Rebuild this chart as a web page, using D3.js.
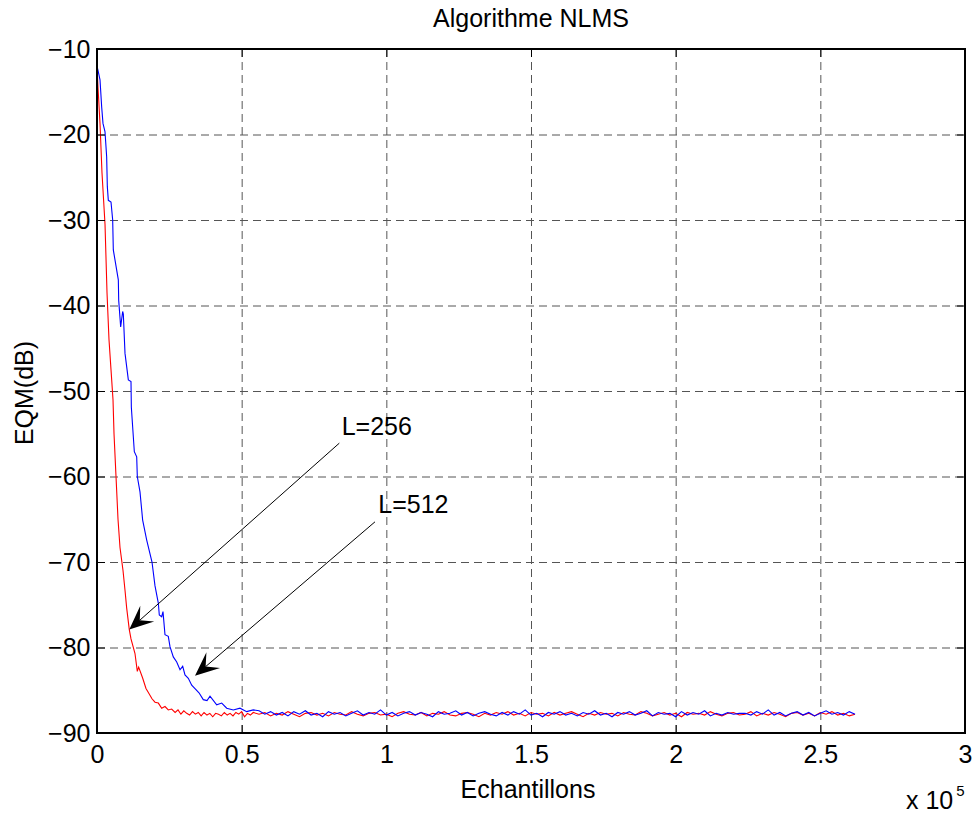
<!DOCTYPE html>
<html>
<head>
<meta charset="utf-8">
<script src="https://cdn.jsdelivr.net/npm/d3@7"></script>
<style>
body { margin: 0; background: #fff; }
text { font-family: "Liberation Sans", Arial, sans-serif; fill: #000; }
</style>
</head>
<body>
<div id="chart"></div>
<script>
// x values are in units of 10^5 samples
var xTicks = [0, 0.5, 1, 1.5, 2, 2.5, 3];
var yTicks = [-90, -80, -70, -60, -50, -40, -30, -20, -10];

// L=256 (red), convergence part
var redHeadX = [0, 0.0035, 0.0104, 0.0173, 0.0277, 0.0346, 0.0415, 0.0484, 0.0553, 0.0588,
  0.0657, 0.0726, 0.0795, 0.0899, 0.0968, 0.1026, 0.1116, 0.1175, 0.1313, 0.1393,
  0.1440, 0.1580, 0.1693, 0.1800, 0.1901, 0.2005, 0.2120, 0.2236, 0.2350, 0.2464,
  0.2580, 0.2700, 0.2800, 0.2900, 0.3000, 0.3100, 0.3200, 0.3300, 0.3400, 0.3500,
  0.3600, 0.3700, 0.3800, 0.3900, 0.4000, 0.4100, 0.4200, 0.4300, 0.4400, 0.4500,
  0.4600, 0.4700, 0.4800, 0.4900, 0.5000, 0.5100, 0.5200, 0.5300, 0.5400];
var redHeadY = [-12.0, -14.5, -18.7, -24.5, -30.5, -38.5, -44.0, -47.5, -51.0, -55.0,
  -60.0, -65.0, -68.3, -71.0, -73.3, -75.4, -77.9, -79.0, -80.7, -82.8,
  -82.3, -83.6, -84.8, -85.4, -86.0, -86.4, -86.5, -87.1, -86.9, -87.3,
  -87.2, -87.6, -87.3, -87.8, -87.4, -87.7, -87.9, -87.5, -87.8, -87.6,
  -88.0, -87.6, -87.9, -87.7, -88.1, -87.7, -87.8, -88.0, -87.6, -87.9,
  -87.7, -88.0, -87.6, -87.8, -87.5, -88.1, -87.7, -87.9, -87.6];

// L=512 (blue), convergence part
var blueHeadX = [0, 0.0035, 0.0104, 0.0162, 0.0207, 0.0277, 0.0334, 0.0357, 0.0391, 0.0484,
  0.0542, 0.0564, 0.0737, 0.0750, 0.0818, 0.0887, 0.0910, 0.0968, 0.1083, 0.1175,
  0.1187, 0.1290, 0.1372, 0.1393, 0.1486, 0.1578, 0.1716, 0.1901, 0.2005, 0.2119,
  0.2153, 0.2236, 0.2281, 0.2350, 0.2464, 0.2523, 0.2637, 0.2755, 0.2869, 0.2962,
  0.3041, 0.3156, 0.3273, 0.3387, 0.3525, 0.3674, 0.3802, 0.3906, 0.4137, 0.4310,
  0.4483, 0.4711, 0.4942, 0.5174, 0.5400];
var blueHeadY = [-12.0, -12.5, -13.6, -16.8, -18.7, -19.7, -22.6, -26.1, -27.7, -27.9,
  -30.0, -33.5, -37.0, -39.4, -42.5, -40.7, -41.0, -45.6, -48.7, -48.9,
  -51.9, -57.1, -57.7, -60.0, -61.8, -65.1, -67.4, -70.0, -72.8, -74.8,
  -76.2, -76.4, -75.8, -78.5, -78.7, -79.9, -81.1, -81.7, -82.6, -82.2,
  -83.2, -83.6, -84.4, -84.8, -85.3, -86.1, -86.2, -85.7, -86.7, -86.5,
  -87.1, -87.3, -87.1, -87.5, -87.3];

// steady state, sampled every 0.02 from 0.56
var tailStart = 0.56, tailStep = 0.02;
var redTail = [
  -87.8, -87.6, -88.0, -87.7, -87.9, -87.5, -87.8, -88.1, -87.7, -87.6,
  -87.9, -87.7, -88.0, -87.6, -87.8, -87.9, -87.5, -87.8, -88.0, -87.7,
  -87.6, -87.9, -87.8, -88.1, -87.7, -87.5, -87.8, -87.9, -87.6, -88.0,
  -87.7, -87.8, -87.5, -87.9, -88.0, -87.7, -87.6, -87.8, -88.1, -87.7,
  -87.9, -87.6, -87.8, -87.5, -87.9, -87.7, -88.0, -87.6, -87.8, -87.7,
  -88.0, -87.6, -87.9, -87.7, -87.5, -87.8, -88.1, -87.7, -87.9, -87.6,
  -87.8, -87.7, -88.0, -87.6, -87.8, -87.9, -87.5, -87.7, -88.0, -87.8,
  -87.6, -87.9, -87.7, -88.1, -87.6, -87.8, -87.7, -87.9, -87.5, -87.8,
  -88.0, -87.7, -87.6, -87.9, -87.8, -87.5, -88.0, -87.7, -87.9, -87.6,
  -87.8, -88.1, -87.7, -87.6, -87.9, -87.7, -88.0, -87.6, -87.8, -87.5,
  -87.9, -87.7, -88.0, -87.8];
var blueTail = [
  -87.4, -87.8, -87.5, -87.9, -87.6, -88.0, -87.5, -87.8, -87.4, -87.9,
  -87.7, -88.1, -87.5, -87.8, -87.6, -88.0, -87.7, -87.4, -87.9, -87.6,
  -87.8, -87.3, -87.9, -87.6, -88.0, -87.7, -87.5, -87.9, -87.6, -87.8,
  -88.1, -87.5, -87.8, -87.7, -87.4, -87.9, -87.6, -88.0, -87.7, -87.5,
  -87.8, -88.0, -87.6, -87.9, -87.5, -87.8, -87.3, -87.9, -87.7, -88.1,
  -87.6, -87.8, -87.5, -87.9, -87.7, -88.0, -87.6, -87.8, -87.4, -87.9,
  -87.7, -88.1, -87.6, -87.8, -87.5, -87.9, -87.7, -87.4, -88.0, -87.6,
  -87.8, -87.7, -88.1, -87.5, -87.9, -87.6, -87.8, -87.4, -88.0, -87.7,
  -87.9, -87.6, -87.8, -87.7, -87.7, -87.9, -87.5, -87.8, -87.3, -87.9,
  -87.6, -88.0, -87.7, -87.5, -87.9, -87.6, -88.0, -87.7, -87.4, -87.8,
  -87.6, -87.9, -87.5, -87.8];

// text arrows: tip, tail of the line, text anchor (data coords)
var labels = ["L=256", "L=512"];
var arrowTips = [[0.1116, -77.9], [0.3387, -83.3]];
var arrowTails = [[0.8375, -56.1], [0.9608, -65.3]];
var labelPos = [[0.8457, -55.2], [0.9722, -64.3]];

var margin = {top: 49, right: 12, bottom: 81, left: 97},
    width = 977 - margin.left - margin.right,
    height = 814 - margin.top - margin.bottom;

var svg = d3.select("#chart")
  .append("svg")
    .attr("width", width + margin.left + margin.right)
    .attr("height", height + margin.top + margin.bottom)
  .append("g")
    .attr("transform", "translate(" + margin.left + "," + margin.top + ")");

var x = d3.scaleLinear().domain([0, 3]).range([0, width]);
var y = d3.scaleLinear().domain([-90, -10]).range([height, 0]);

// grid
var gx = svg.append("g")
    .attr("transform", "translate(0," + height + ")")
    .call(d3.axisBottom(x).tickValues(xTicks.slice(1, -1)).tickSize(-height).tickFormat(""));
var gy = svg.append("g")
    .call(d3.axisLeft(y).tickValues(yTicks.slice(1, -1)).tickSize(-width).tickFormat(""));
[gx, gy].forEach(function(g) {
  g.select(".domain").remove();
  g.selectAll("line")
    .attr("stroke", "#555")
    .attr("stroke-width", 1)
    .attr("stroke-dasharray", "8,5");
});

function series(hx, hy, tail) {
  var pts = hx.map(function(v, i) { return [v, hy[i]]; });
  tail.forEach(function(v, i) { pts.push([tailStart + i * tailStep, v]); });
  return pts;
}

var line = d3.line()
    .x(function(d) { return x(d[0]); })
    .y(function(d) { return y(d[1]); });

svg.append("path")
    .datum(series(redHeadX, redHeadY, redTail))
    .attr("fill", "none")
    .attr("stroke", "#ff0000")
    .attr("stroke-width", 1.1)
    .attr("d", line);

svg.append("path")
    .datum(series(blueHeadX, blueHeadY, blueTail))
    .attr("fill", "none")
    .attr("stroke", "#0000ff")
    .attr("stroke-width", 1.1)
    .attr("d", line);

// axes with ticks inside, box on
var ax = svg.append("g")
    .attr("transform", "translate(0," + height + ")")
    .call(d3.axisBottom(x).tickValues(xTicks).tickSize(-8).tickPadding(12.5)
      .tickFormat(function(d) { return d3.format("")(d); }));
var ay = svg.append("g")
    .call(d3.axisLeft(y).tickValues(yTicks).tickSize(-8).tickPadding(6.5));
var at = svg.append("g")
    .call(d3.axisTop(x).tickValues(xTicks).tickSize(-8).tickFormat(""));
var ar = svg.append("g")
    .attr("transform", "translate(" + width + ",0)")
    .call(d3.axisRight(y).tickValues(yTicks).tickSize(-8).tickFormat(""));
[ax, ay, at, ar].forEach(function(g) {
  g.select(".domain").remove();
  g.selectAll("line").attr("stroke", "#000").attr("stroke-width", 1);
  g.selectAll("text").style("font-size", "25px").style("font-family", '"Liberation Sans", Arial, sans-serif');
});

svg.append("rect")
    .attr("width", width)
    .attr("height", height)
    .attr("fill", "none")
    .attr("stroke", "#000")
    .attr("stroke-width", 2);

// arrows
labels.forEach(function(lab, i) {
  var tx = x(arrowTips[i][0]), ty = y(arrowTips[i][1]);
  var ex = x(arrowTails[i][0]), ey = y(arrowTails[i][1]);
  var dx = ex - tx, dy = ey - ty, len = Math.sqrt(dx * dx + dy * dy);
  var ux = dx / len, uy = dy / len, nx = -uy, ny = ux;
  var L = 24, W = 10.5, B = 14;
  svg.append("line")
      .attr("x1", tx + B * ux).attr("y1", ty + B * uy)
      .attr("x2", ex).attr("y2", ey)
      .attr("stroke", "#000").attr("stroke-width", 1);
  svg.append("path")
      .attr("d", "M" + tx + "," + ty +
        "L" + (tx + L * ux + W * nx) + "," + (ty + L * uy + W * ny) +
        "L" + (tx + B * ux) + "," + (ty + B * uy) +
        "L" + (tx + L * ux - W * nx) + "," + (ty + L * uy - W * ny) + "Z")
      .attr("fill", "#000");
  svg.append("text")
      .attr("x", x(labelPos[i][0]))
      .attr("y", y(labelPos[i][1]))
      .style("font-size", "25px")
      .text(lab);
});

// titles
svg.append("text")
    .attr("x", width / 2)
    .attr("y", 27 - margin.top)
    .attr("text-anchor", "middle")
    .style("font-size", "25px")
    .text("Algorithme NLMS");

svg.append("text")
    .attr("x", width / 2 - 3)
    .attr("y", height + 65)
    .attr("text-anchor", "middle")
    .style("font-size", "25px")
    .text("Echantillons");

svg.append("text")
    .attr("transform", "translate(" + (33 - margin.left) + "," + (height / 2 + 2) + ") rotate(-90)")
    .attr("text-anchor", "middle")
    .style("font-size", "25px")
    .text("EQM(dB)");

var ex10 = svg.append("text")
    .attr("x", 906 - margin.left)
    .attr("y", 809 - margin.top)
    .style("font-size", "25px");
ex10.append("tspan").text("x 10");
ex10.append("tspan").attr("dx", 3).attr("dy", -13).style("font-size", "15px").text("5");
</script>
</body>
</html>
